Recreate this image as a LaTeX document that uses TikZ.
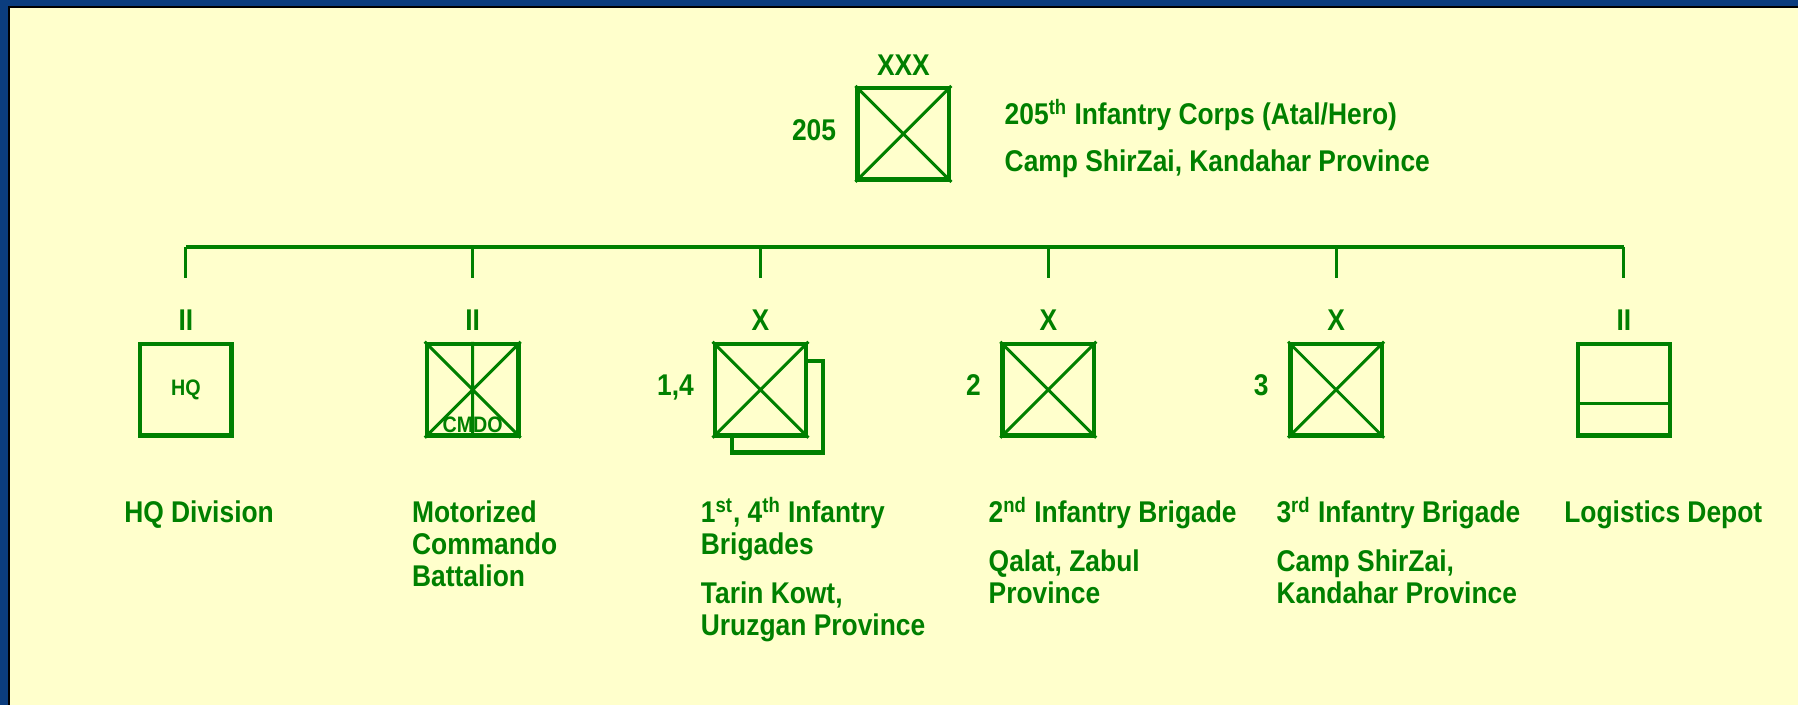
\documentclass[tikz,border=0pt]{standalone}
\usepackage{fontspec}
\setmainfont{Liberation Sans}
\newfontfamily\slidefont[FakeStretch=0.88]{Liberation Sans}
\usepackage{tikz}

\definecolor{armygreen}{HTML}{008000}
\definecolor{panel}{HTML}{FFFFCC}
\definecolor{slideblue}{HTML}{0B3D7E}

\begin{document}
\begin{tikzpicture}[x=0.5pt,y=-0.5pt]
	\tikzstyle{unit}=[draw=armygreen,line width=2.2pt,fill=panel,minimum size=45.8pt,inner sep=0pt,text=armygreen,font=\slidefont\fontsize{11.2}{13}\selectfont\bfseries]
	\tikzstyle{cross}=[draw=armygreen,line width=1.5pt]
	\tikzstyle{unittext}=[text=armygreen,inner sep=0pt,align=left,font=\slidefont\fontsize{15}{16}\selectfont\bfseries]
	\tikzstyle{echelon}=[unittext,anchor=base]

	% slide background
	\fill[slideblue] (0,0) rectangle (1799,705);
	\fill[panel] (9,7) rectangle (1799,705);
	\draw[black,line width=1.2pt] (9,705) -- (9,7) -- (1799,7);
	\useasboundingbox (0,0) rectangle (1799,705);

	% corps
	\node[unit](corps) at (904,134){};
	\draw[cross] (corps.north west) -- (corps.south east) (corps.north east) -- (corps.south west);
	\node[echelon](corpsech) at (904,76){XXX};
	\node[unittext,anchor=base east](corpsnum) at (837,141){205};
	\node[unittext,anchor=base west](corpsname) at (1005,125){205\textsuperscript{th} Infantry Corps (Atal/Hero)};
	\node[unittext,anchor=base west](corpsloc) at (1005,172){Camp ShirZai, Kandahar Province};

	% bus
	\coordinate (j1) at (186,247);
	\coordinate (j2) at (473,247);
	\coordinate (j3) at (761,247);
	\coordinate (j4) at (1049,247);
	\coordinate (j5) at (1337,247);
	\coordinate (j6) at (1625,247);
	\coordinate (d1) at (186,278);
	\coordinate (d2) at (473,278);
	\coordinate (d3) at (761,278);
	\coordinate (d4) at (1049,278);
	\coordinate (d5) at (1337,278);
	\coordinate (d6) at (1625,278);
	\draw[armygreen,line width=2pt] (j1) -- (j6);
	\path[armygreen,line width=1.5pt]
		(j1) edge (d1)
		(j2) edge (d2)
		(j3) edge (d3)
		(j4) edge (d4)
		(j5) edge (d5)
		(j6) edge (d6);

	% echelons
	\node[echelon](ech1) at (186,331){II};
	\node[echelon](ech2) at (473,331){II};
	\node[echelon](ech3) at (761,331){X};
	\node[echelon](ech4) at (1049,331){X};
	\node[echelon](ech5) at (1337,331){X};
	\node[echelon](ech6) at (1625,331){II};

	% units
	\node[unit](hq) at (186,390){HQ};

	\node[unit](cmdo) at (473,390){};
	\draw[cross] (cmdo.north west) -- (cmdo.south east) (cmdo.north east) -- (cmdo.south west) (cmdo.north) -- (cmdo.south);
	\node[text=armygreen,font=\slidefont\fontsize{11.2}{13}\selectfont\bfseries,inner sep=0pt,anchor=base](cmdotext) at ([yshift=2.5pt]cmdo.south){CMDO};

	\node[unit](bde14back) at (778,407){};
	\node[unit](bde14) at (761,390){};
	\draw[cross] (bde14.north west) -- (bde14.south east) (bde14.north east) -- (bde14.south west);
	\node[unittext,anchor=base](bde14num) at (676,396){1,4};

	\node[unit](bde2) at (1049,390){};
	\draw[cross] (bde2.north west) -- (bde2.south east) (bde2.north east) -- (bde2.south west);
	\node[unittext,anchor=base](bde2num) at (974,396){2};

	\node[unit](bde3) at (1337,390){};
	\draw[cross] (bde3.north west) -- (bde3.south east) (bde3.north east) -- (bde3.south west);
	\node[unittext,anchor=base](bde3num) at (1262,396){3};

	\node[unit](log) at (1625,390){};
	\draw[cross] ([yshift=-7pt]log.west) -- ([yshift=-7pt]log.east);

	% captions (base = last line)
	\node[unittext,anchor=base west](hqname) at (124,523){HQ Division};
	\node[unittext,anchor=base west](cmdoname) at (412,587){Motorized\\Commando\\Battalion};
	\node[unittext,anchor=base west](bde14name) at (701,555){1\textsuperscript{st}, 4\textsuperscript{th} Infantry\\Brigades};
	\node[unittext,anchor=base west](bde14loc) at (701,636){Tarin Kowt,\\Uruzgan Province};
	\node[unittext,anchor=base west](bde2name) at (989,523){2\textsuperscript{nd} Infantry Brigade};
	\node[unittext,anchor=base west](bde2loc) at (989,604){Qalat, Zabul\\Province};
	\node[unittext,anchor=base west](bde3name) at (1277,523){3\textsuperscript{rd} Infantry Brigade};
	\node[unittext,anchor=base west](bde3loc) at (1277,604){Camp ShirZai,\\Kandahar Province};
	\node[unittext,anchor=base west](logname) at (1565,523){Logistics Depot};
\end{tikzpicture}
\end{document}
